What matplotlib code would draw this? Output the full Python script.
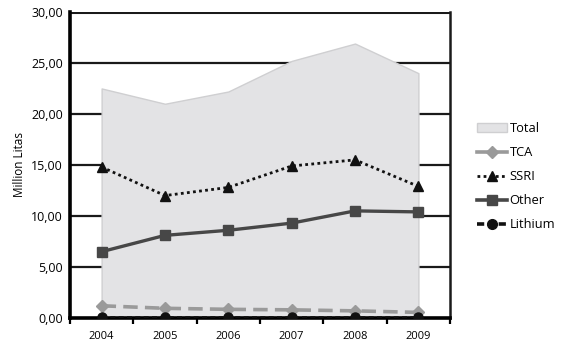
import matplotlib.pyplot as plt
from matplotlib.patches import Patch
from matplotlib.lines import Line2D

years = ['2004', '2005', '2006', '2007', '2008', '2009']
total = [22.5, 21.0, 22.2, 25.2, 26.9, 24.0]
tca = [1.2, 0.95, 0.85, 0.8, 0.7, 0.55]
ssri = [14.8, 12.0, 12.8, 14.9, 15.5, 12.9]
other = [6.5, 8.1, 8.6, 9.3, 10.5, 10.4]
lithium = [0.05, 0.05, 0.05, 0.05, 0.05, 0.05]

plt.rcParams['font.family'] = ['Open Sans', 'DejaVu Sans']

fig = plt.figure(figsize=(5.64, 3.51), dpi=100)
ax = fig.add_axes([0.124, 0.094, 0.674, 0.872])

x = list(range(len(years)))

# gridlines behind the area
for v in [5, 10, 15, 20, 25, 30]:
    ax.axhline(v, color='#1a1a1a', lw=1.6 if v < 30 else 2.2, zorder=0)

ax.fill_between(x, 0, total, color='#e3e3e5', edgecolor='#cfcfd1', lw=1.0, zorder=1)

ax.plot(x, tca, color='#9a9a9a', lw=2.6, ls=(0, (4, 2)), marker='D', ms=6,
        zorder=3)
ax.plot(x, ssri, color='#111111', lw=2.0, ls=(0, (1, 1.2)), marker='^', ms=7.5,
        zorder=3)
ax.plot(x, other, color='#474747', lw=2.4, ls='-', marker='s', ms=7, zorder=3)
ax.plot(x, lithium, color='#111111', lw=1.2, ls=(0, (3, 2)), marker='o', ms=6.5,
        zorder=3)

ax.set_xlim(-0.5, 5.5)
ax.set_ylim(0, 30)
ax.set_yticks([0, 5, 10, 15, 20, 25, 30])
ax.set_yticklabels(['0,00', '5,00', '10,00', '15,00', '20,00', '25,00', '30,00'])
ax.set_xticks(x)
ax.set_xticklabels(years)
ax.set_xticks([i - 0.5 for i in range(7)], minor=True)
ax.tick_params(axis='x', which='major', length=0, pad=9, labelsize=8)
ax.tick_params(axis='x', which='minor', length=4, width=1.6, direction='out')
ax.tick_params(axis='y', length=0, pad=5, labelsize=9)

ax.spines['top'].set_visible(False)
ax.spines['left'].set_linewidth(2.6)
ax.spines['bottom'].set_linewidth(2.6)
ax.spines['right'].set_linewidth(1.8)
ax.spines['right'].set_color('#1a1a1a')

ax.set_ylabel('Million Litas', fontsize=8.5, labelpad=4)

handles = [
    Patch(facecolor='#e3e3e5', edgecolor='#cfcfd1', label='Total'),
    Line2D([], [], color='#9a9a9a', lw=2.6, marker='D', ms=6, label='TCA'),
    Line2D([], [], color='#111111', lw=2.0, ls=(0, (1, 1.2)), marker='^', ms=7, label='SSRI'),
    Line2D([], [], color='#474747', lw=2.6, marker='s', ms=7, label='Other'),
    Line2D([], [], color='#111111', lw=2.6, ls=(0, (2, 1)), marker='o', ms=7, label='Lithium'),
]
fig.legend(handles=handles, loc='upper left', bbox_to_anchor=(0.835, 0.67),
           frameon=False, fontsize=9.3, handlelength=2.3, handletextpad=0.2,
           labelspacing=0.85, borderpad=0)

fig.savefig('out.png', dpi=100)
